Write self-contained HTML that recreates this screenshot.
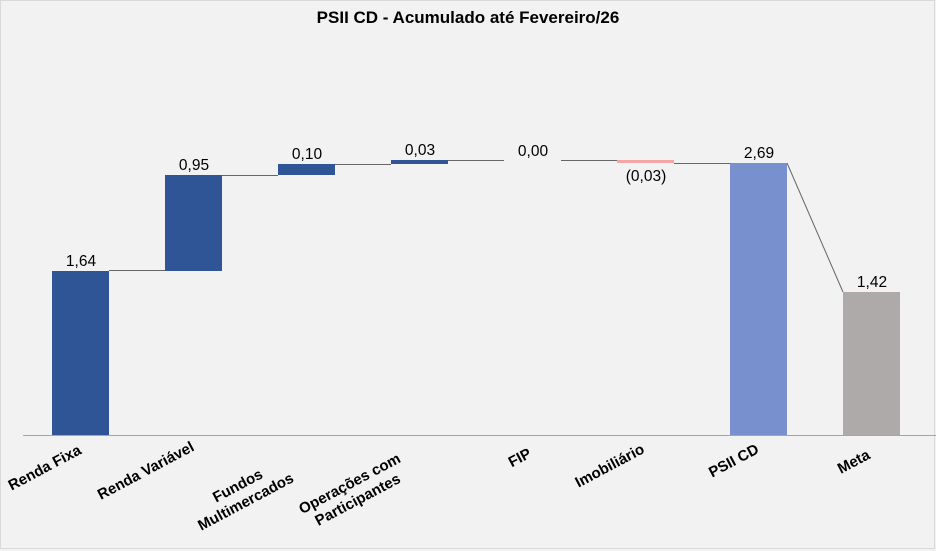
<!DOCTYPE html>
<html><head><meta charset="utf-8"><style>
html,body{margin:0;padding:0;background:#f2f2f2;}
svg{display:block;}
text{font-family:"Liberation Sans",Arial,sans-serif;}
</style></head><body>
<svg width="936" height="551" viewBox="0 0 936 551" xmlns="http://www.w3.org/2000/svg">
<rect x="0" y="0" width="936" height="551" fill="#f2f2f2"/>
<rect x="0.5" y="0.5" width="934" height="548" fill="none" stroke="#d9d9d9"/>
<text x="468" y="23" text-anchor="middle" font-size="17" font-weight="bold" fill="#000">PSII CD - Acumulado  até Fevereiro/26</text>
<line x1="23" y1="435.5" x2="936" y2="435.5" stroke="#a6a6a6" stroke-width="1"/>
<g stroke="#666" stroke-width="1">
<line x1="109" y1="270.5" x2="165" y2="270.5"/>
<line x1="222" y1="175.5" x2="278" y2="175.5"/>
<line x1="335" y1="164.5" x2="391" y2="164.5"/>
<line x1="448" y1="160.5" x2="504" y2="160.5"/>
<line x1="561" y1="160.5" x2="617" y2="160.5"/>
<line x1="674" y1="163.5" x2="730" y2="163.5"/>
<line x1="787" y1="163" x2="843" y2="292"/>
</g>
<rect x="52" y="271" width="57" height="164" fill="#2f5597"/>
<rect x="165" y="175" width="57" height="96" fill="#2f5597"/>
<rect x="278" y="164" width="57" height="11" fill="#2f5597"/>
<rect x="391" y="160" width="57" height="4" fill="#2f5597"/>
<rect x="617" y="160" width="57" height="3" fill="#f4a6a6"/>
<rect x="730" y="163" width="57" height="272" fill="#7890cd"/>
<rect x="843" y="292" width="57" height="143" fill="#aeaaaa"/>
<g font-size="15.5" fill="#000" text-anchor="middle">
<text x="81" y="266">1,64</text>
<text x="194" y="170">0,95</text>
<text x="307" y="159">0,10</text>
<text x="420" y="155">0,03</text>
<text x="533" y="156">0,00</text>
<text x="646" y="181">(0,03)</text>
<text x="759" y="158">2,69</text>
<text x="872" y="287">1,42</text>
</g>
<g font-size="15" font-weight="bold" fill="#000" text-anchor="middle">
<text transform="translate(47,472) rotate(-28)">Renda Fixa</text>
<text transform="translate(148,475) rotate(-28)">Renda Variável</text>
<text transform="translate(240,490) rotate(-28)">Fundos</text>
<text transform="translate(248,506) rotate(-28)">Multimercados</text>
<text transform="translate(352,488) rotate(-28)">Operações com</text>
<text transform="translate(360,504) rotate(-28)">Participantes</text>
<text transform="translate(522,462) rotate(-28)">FIP</text>
<text transform="translate(612,470) rotate(-28)">Imobiliário</text>
<text transform="translate(736,465) rotate(-28)">PSII CD</text>
<text transform="translate(856,466) rotate(-28)">Meta</text>
</g>
</svg>
</body></html>
